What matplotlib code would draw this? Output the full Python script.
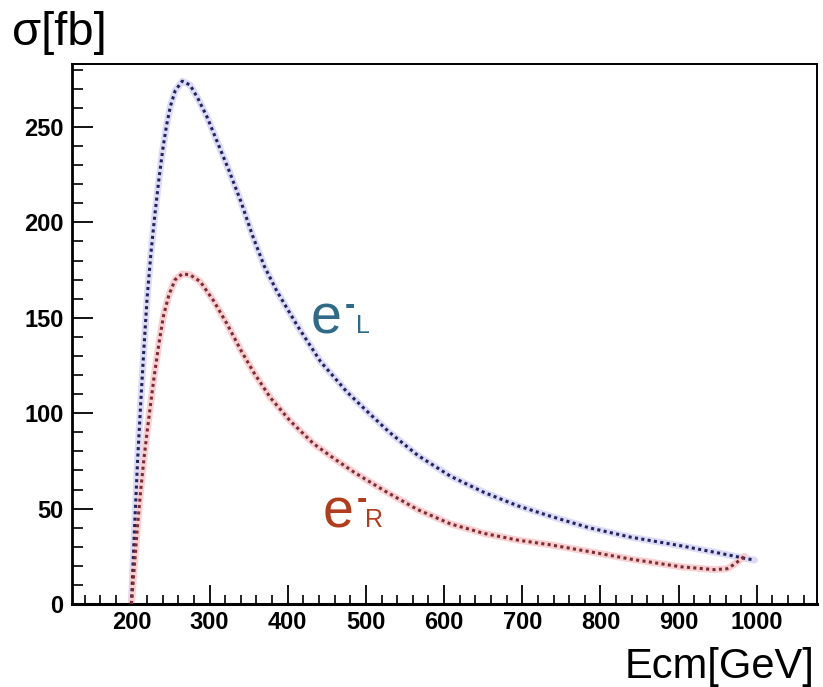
import matplotlib
matplotlib.use("Agg")
import matplotlib.pyplot as plt
from matplotlib.ticker import MultipleLocator

# cross section vs centre-of-mass energy
ecm_left = [200, 204, 208, 212, 216, 220, 225, 230, 235, 240, 245, 250, 256,
            265, 275, 285, 297, 310, 325, 340, 355, 370, 386, 412, 442, 476,
            504, 530, 566, 608, 651, 694, 736, 785, 839, 903, 954, 984, 997]
sigma_left = [0, 40, 76, 106, 134, 160, 184, 204, 222, 238, 251, 261, 269,
              274, 272, 265, 255, 242, 227, 211, 193, 177, 164, 146, 127, 111,
              100, 90, 78, 67, 58.5, 51.5, 46, 40, 35, 30.5, 26.5, 24, 23]

ecm_right = [200, 204, 208, 212, 216, 220, 224, 229, 235, 241, 248, 256, 265,
             275, 288, 305, 322, 340, 357, 378, 403, 433, 460, 485, 523, 566,
             608, 651, 694, 736, 785, 839, 903, 946, 962, 972, 984]
sigma_right = [0, 21, 42, 60, 76, 90, 103, 119, 136, 151, 162, 170, 173,
               172.5, 169, 159, 147, 133, 121, 108, 96, 84, 76, 69, 59.5, 49.5,
               42, 37, 33.5, 31, 27.5, 23.5, 19.5, 18, 18.5, 21, 25]

fig = plt.figure(figsize=(8.23, 6.87), dpi=100)
ax = fig.add_axes([72 / 823, 83 / 687, 745 / 823, 540 / 687])

# soft halo under each dotted curve
ax.plot(ecm_left, sigma_left, color="#dcdcf6", lw=5, solid_capstyle="round", zorder=2)
ax.plot(ecm_right, sigma_right, color="#f8d0d2", lw=5, solid_capstyle="round", zorder=2)
ax.plot(ecm_left, sigma_left, color="#22225e", lw=2.2, ls=(0, (1, 1.1)), zorder=3)
ax.plot(ecm_right, sigma_right, color="#7c2b33", lw=2.2, ls=(0, (1, 1.1)), zorder=3)

ax.set_xlim(124, 1077)
ax.set_ylim(0, 283)

ax.xaxis.set_major_locator(MultipleLocator(100))
ax.xaxis.set_minor_locator(MultipleLocator(20))
ax.yaxis.set_major_locator(MultipleLocator(50))
ax.yaxis.set_minor_locator(MultipleLocator(10))

ax.tick_params(axis="x", which="major", direction="in", length=14, width=1.3, pad=5)
ax.tick_params(axis="x", which="minor", direction="in", length=6.5, width=1.2)
ax.tick_params(axis="y", which="major", direction="in", length=15, width=1.3, pad=6)
ax.tick_params(axis="y", which="minor", direction="in", length=8, width=1.2)

for lab in ax.get_xticklabels() + ax.get_yticklabels():
    lab.set_fontfamily("Liberation Sans")
    lab.set_fontweight("bold")
    lab.set_fontsize(17)

ax.spines["left"].set_linewidth(2.0)
ax.spines["bottom"].set_linewidth(2.2)
ax.spines["top"].set_linewidth(1.4)
ax.spines["right"].set_linewidth(1.4)

font = "Liberation Sans"
fig.text(12 / 823, 1 - 45 / 687, "σ[fb]", fontsize=34, family=font, va="baseline", ha="left")
fig.text(815 / 823, 1 - 678 / 687, "Ecm[GeV]", fontsize=30, family=font, va="baseline", ha="right")

# curve labels: big e, short bar above, subscript letter
blue_lab = "#2f6a89"
red_lab = "#b13d1d"
fig.text(311 / 823, 1 - 333 / 687, "e", fontsize=40, family=font, color=blue_lab, va="baseline")
fig.text(345 / 823, 1 - 314 / 687, "-", fontsize=22, family=font, fontweight="bold",
         color=blue_lab, va="baseline")
fig.text(356 / 823, 1 - 333 / 687, "L", fontsize=18, family=font, color=blue_lab, va="baseline")
fig.text(323 / 823, 1 - 527 / 687, "e", fontsize=40, family=font, color=red_lab, va="baseline")
fig.text(357 / 823, 1 - 508 / 687, "-", fontsize=22, family=font, fontweight="bold",
         color=red_lab, va="baseline")
fig.text(365 / 823, 1 - 527 / 687, "R", fontsize=18, family=font, color=red_lab, va="baseline")

fig.savefig("out.png", dpi=100)
